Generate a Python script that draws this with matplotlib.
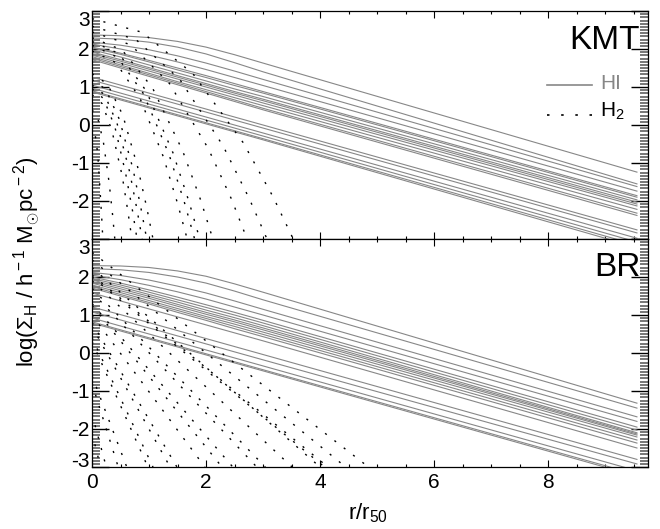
import matplotlib

matplotlib.use("Agg")
import matplotlib.pyplot as plt  # noqa: E402
import numpy as np  # noqa: E402

plt.rcParams["font.family"] = ["Liberation Sans", "DejaVu Sans"]
plt.rcParams["mathtext.fontset"] = "custom"
plt.rcParams["mathtext.rm"] = "Liberation Sans"
plt.rcParams["mathtext.it"] = "Liberation Sans:italic"
plt.rcParams["mathtext.bf"] = "Liberation Sans:bold"

# ---- data ---------------------------------------------------------------
# HI profiles: log surface density at common radii (r/r50)
R_HI = [0.0, 0.5, 1.0, 1.5, 2.0, 2.5, 3.0, 9.56]

KMT_HI = [
    [2.37, 2.35, 2.30, 2.20, 2.05, 1.85, 1.63, -1.24],
    [2.29, 2.26, 2.18, 2.05, 1.87, 1.64, 1.40, -1.55],
    [2.18, 2.10, 1.98, 1.82, 1.63, 1.42, 1.20, -1.62],
    [2.13, 2.00, 1.84, 1.66, 1.46, 1.25, 1.04, -1.74],
    [2.05, 1.89, 1.70, 1.50, 1.30, 1.09, 0.88, -1.86],
    [2.03, 1.86, 1.66, 1.45, 1.25, 1.04, 0.84, -1.90],
    [1.98, 1.79, 1.58, 1.37, 1.16, 0.95, 0.75, -1.97],
    [1.92, 1.72, 1.51, 1.30, 1.09, 0.88, 0.68, -2.03],
    [1.88, 1.68, 1.47, 1.26, 1.05, 0.84, 0.64, -2.08],
    [1.84, 1.63, 1.42, 1.21, 1.00, 0.79, 0.58, -2.13],
    [1.80, 1.58, 1.36, 1.14, 0.93, 0.72, 0.51, -2.22],
    [1.76, 1.54, 1.32, 1.10, 0.88, 0.66, 0.44, -2.32],
    [1.72, 1.50, 1.28, 1.06, 0.84, 0.62, 0.40, -2.38],
    [1.26, 1.05, 0.84, 0.63, 0.42, 0.21, 0.00, -2.76],
    [1.18, 0.97, 0.76, 0.55, 0.34, 0.13, -0.08, -2.84],
    [1.05, 0.84, 0.63, 0.42, 0.21, 0.00, -0.21, -2.98],
    [0.97, 0.76, 0.55, 0.34, 0.13, -0.08, -0.29, -3.08],
    [0.90, 0.69, 0.48, 0.27, 0.06, -0.15, -0.36, -3.16],
    [0.87, 0.66, 0.45, 0.24, 0.03, -0.18, -0.39, -3.22],
]

BR_HI = [
    [2.30, 2.29, 2.25, 2.16, 2.02, 1.82, 1.60, -1.32],
    [2.22, 2.19, 2.12, 2.00, 1.84, 1.63, 1.40, -1.45],
    [2.12, 2.04, 1.92, 1.76, 1.58, 1.37, 1.15, -1.68],
    [2.05, 1.93, 1.78, 1.61, 1.42, 1.21, 1.00, -1.80],
    [2.00, 1.84, 1.66, 1.47, 1.27, 1.07, 0.86, -1.95],
    [1.96, 1.79, 1.60, 1.40, 1.20, 1.00, 0.79, -2.03],
    [1.92, 1.74, 1.54, 1.34, 1.13, 0.93, 0.72, -2.10],
    [1.88, 1.69, 1.49, 1.28, 1.07, 0.87, 0.66, -2.13],
    [1.84, 1.64, 1.44, 1.23, 1.02, 0.82, 0.61, -2.16],
    [1.79, 1.59, 1.38, 1.17, 0.96, 0.76, 0.55, -2.21],
    [1.75, 1.54, 1.33, 1.12, 0.91, 0.70, 0.49, -2.29],
    [1.71, 1.50, 1.29, 1.07, 0.86, 0.64, 0.43, -2.37],
    [1.58, 1.37, 1.16, 0.95, 0.74, 0.53, 0.32, -2.50],
    [1.21, 1.01, 0.80, 0.59, 0.38, 0.17, -0.04, -2.80],
    [1.08, 0.87, 0.66, 0.45, 0.24, 0.03, -0.18, -2.92],
    [0.92, 0.71, 0.50, 0.29, 0.08, -0.13, -0.34, -3.10],
    [0.82, 0.61, 0.40, 0.19, -0.02, -0.23, -0.44, -3.20],
    [0.79, 0.58, 0.37, 0.16, -0.05, -0.26, -0.47, -3.24],
]

# H2 profiles (KMT): curved, each with its own radii
KMT_H2_R = [
    [0, 0.88, 1.77, 2.65, 3.18, 3.53],
    [0, 0.77, 1.54, 2.30, 2.76, 3.07],
    [0, 0.68, 1.36, 2.04, 2.45, 2.72],
    [0, 0.53, 1.06, 1.59, 1.91, 2.12],
    [0, 0.47, 0.95, 1.42, 1.70, 1.89],
    [0, 0.45, 0.90, 1.35, 1.62, 1.80],
    [0, 0.42, 0.84, 1.25, 1.50, 1.67],
    [0, 0.27, 0.54, 0.80, 0.96, 1.07],
    [0, 0.24, 0.48, 0.72, 0.86, 0.96],
    [0, 0.22, 0.44, 0.66, 0.79, 0.88],
    [0, 0.20, 0.40, 0.59, 0.71, 0.79],
    [0, 0.18, 0.35, 0.53, 0.63, 0.70],
    [0, 0.10, 0.20, 0.30, 0.36, 0.40],
    [0, 0.05, 0.10, 0.14, 0.17, 0.19],
]
KMT_H2 = [
    [2.80, 2.44, 1.35, -0.46, -1.90, -3.0],
    [2.60, 2.25, 1.20, -0.55, -1.94, -3.0],
    [2.45, 2.11, 1.09, -0.62, -1.96, -3.0],
    [2.30, 1.97, 0.98, -0.68, -1.99, -3.0],
    [2.20, 1.88, 0.90, -0.73, -2.01, -3.0],
    [2.10, 1.78, 0.83, -0.77, -2.03, -3.0],
    [1.95, 1.64, 0.71, -0.83, -2.06, -3.0],
    [1.35, 1.08, 0.26, -1.10, -2.17, -3.0],
    [1.20, 0.94, 0.15, -1.16, -2.20, -3.0],
    [1.05, 0.80, 0.04, -1.23, -2.23, -3.0],
    [0.95, 0.70, -0.04, -1.27, -2.25, -3.0],
    [0.80, 0.56, -0.15, -1.34, -2.28, -3.0],
    [0.40, 0.19, -0.45, -1.51, -2.35, -3.0],
    [0.00, -0.19, -0.75, -1.69, -2.43, -3.0],
]

# H2 profiles (BR): near-straight, centre value and radius where they reach -3
BR_H2_Y0 = [2.65, 2.45, 2.05, 2.00, 2.25, 1.90, 1.70, 1.60, 1.30, 1.25,
            1.00, 0.80, 0.70, 0.40, 0.30, -0.60, -0.80, -1.60, -2.10]
BR_H2_REND = [4.85, 4.45, 4.14, 4.08, 4.00, 3.51, 3.04, 2.89, 2.47, 2.28,
              1.98, 1.49, 1.37, 1.07, 0.98, 0.61, 0.46, 0.25, 0.15]
BR_H2_YEND = -3.0

Y_TICKS = [-3, -2, -1, 0, 1, 2, 3]
Y_TICKLABELS = ["-3", "-2", "-1", "0", "1", "2", "3"]
X_TICKS = [0, 2, 4, 6, 8]

GRAY = "#878787"
DOTS = (0, (1.5, 7))


def style_axes(ax, bottom_panel):
    ax.set_xlim(0, 9.754)
    ax.set_ylim(-3, 3)
    ax.set_xticks(X_TICKS)
    ax.set_xticks(np.arange(0, 9.76, 0.5), minor=True)
    ax.set_yticks(Y_TICKS)
    ax.set_yticks(np.round(np.arange(-3, 3.001, 1 / 12), 3), minor=True)
    labels = list(Y_TICKLABELS)
    if not bottom_panel:
        labels[0] = ""
    ax.set_yticklabels(labels)
    ax.tick_params(axis="both", which="both", direction="in", top=True, right=True,
                   left=True, bottom=True, labelsize=15)
    ax.tick_params(axis="x", which="major", length=5, width=0.8, pad=4)
    ax.tick_params(axis="x", which="minor", length=2.5, width=0.8)
    ax.tick_params(axis="y", which="major", length=12, width=1.0, pad=1.5,
                   color="black")
    ax.tick_params(axis="y", which="minor", length=6, width=1.2, color="#606060")
    for tl in ax.get_yticklabels():
        if tl.get_text() == "3":
            tl.set_va("top")
        elif tl.get_text() == "-3":
            tl.set_va("baseline")
    if bottom_panel:
        ax.set_xticklabels([str(t) for t in X_TICKS])
    else:
        ax.tick_params(axis="x", labelbottom=False)
    for sp in ax.spines.values():
        sp.set_linewidth(0.9)


fig = plt.figure(figsize=(6.6, 5.29), dpi=100)
ax1 = fig.add_axes([92 / 660, 1 - 239 / 529, 556 / 660, 228 / 529])
ax2 = fig.add_axes([92 / 660, 1 - 467 / 529, 556 / 660, 228 / 529])

# top: KMT
for prof in KMT_HI:
    ax1.plot(R_HI, prof, color=GRAY, lw=0.8)
for rr, prof in zip(KMT_H2_R, KMT_H2):
    ax1.plot(rr, prof, color="black", lw=1.0, linestyle=DOTS)

# bottom: BR
for prof in BR_HI:
    ax2.plot(R_HI, prof, color=GRAY, lw=0.8)
for y0, rend in zip(BR_H2_Y0, BR_H2_REND):
    ax2.plot([0, rend], [y0, BR_H2_YEND], color="black", lw=1.0, linestyle=DOTS)

style_axes(ax1, False)
style_axes(ax2, True)

ax1.text(0.986, 0.833, "KMT", transform=ax1.transAxes, fontsize=24,
         ha="right", va="baseline")
ax2.text(0.986, 0.837, "BR", transform=ax2.transAxes, fontsize=24,
         ha="right", va="baseline")

# hand-made legend in the top panel
ax1.plot([0.818, 0.899], [0.674, 0.674], transform=ax1.transAxes, color=GRAY, lw=1.2)
ax1.plot([0.818, 0.899], [0.542, 0.542], transform=ax1.transAxes, color="black",
         lw=1.2, linestyle=DOTS)
ax1.text(0.914, 0.656, "HI", transform=ax1.transAxes, fontsize=15, color=GRAY,
         ha="left", va="baseline")
ax1.text(0.914, 0.537, r"H$_2$", transform=ax1.transAxes, fontsize=15,
         ha="left", va="baseline")

fig.text(0.042, 0.505, r"log($\Sigma_{\rm H}$ / h$^{\rm -1}$ M$_{\odot}$pc$^{\rm -2}$)",
         rotation=90, ha="center", va="center", fontsize=16)
fig.text(0.558, 0.030, r"r/r$_{50}$", ha="center", va="center", fontsize=16)

fig.savefig("out.png", dpi=100)
